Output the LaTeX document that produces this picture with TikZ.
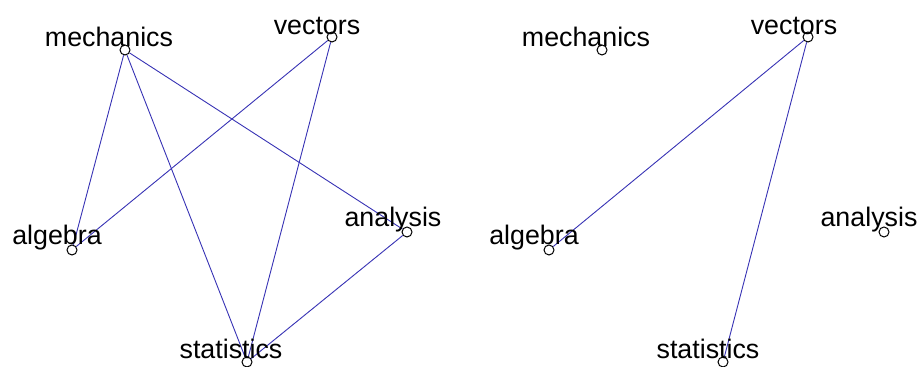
\documentclass[tikz,border=0pt]{standalone}
\usepackage{fontspec}
\setmainfont{Liberation Sans}
\usetikzlibrary{positioning}
\definecolor{edgeblue}{RGB}{55,50,180}

\begin{document}
\begin{tikzpicture}[
  x=0.5pt, y=-0.5pt,
  vx/.style={draw, circle, minimum size=5pt, inner sep=0pt, line width=0.5pt},
  lbl/.style={anchor=base, inner sep=0pt, font=\fontsize{13.4}{15}\selectfont},
  ed/.style={draw=edgeblue, line width=0.45pt}
]
  \useasboundingbox (0,0) rectangle (921,367);

  % left graph
  \node[vx] (mech1)  at (125,50)  {};
  \node[vx] (vect1)  at (332,37)  {};
  \node[vx] (alg1)   at (72,250)  {};
  \node[vx] (anal1)  at (407,232) {};
  \node[vx] (stat1)  at (247,362) {};

  \draw[ed] (mech1) -- (alg1);
  \draw[ed] (mech1) -- (stat1);
  \draw[ed] (mech1) -- (anal1);
  \draw[ed] (vect1) -- (alg1);
  \draw[ed] (vect1) -- (stat1);
  \draw[ed] (anal1) -- (stat1);

  \node[lbl] (tmech1) at (109,47)  {mechanics};
  \node[lbl] (tvect1) at (317,35)  {vectors};
  \node[lbl] (talg1)  at (57,245)  {algebra};
  \node[lbl] (tanal1) at (393,227) {analysis};
  \node[lbl] (tstat1) at (231,359) {statistics};

  % right graph
  \node[vx] (mech2)  at (602,50)  {};
  \node[vx] (vect2)  at (808,37)  {};
  \node[vx] (alg2)   at (549,250) {};
  \node[vx] (anal2)  at (884,232) {};
  \node[vx] (stat2)  at (723,362) {};

  \draw[ed] (vect2) -- (alg2);
  \draw[ed] (vect2) -- (stat2);

  \node[lbl] (tmech2) at (586,47)  {mechanics};
  \node[lbl] (tvect2) at (794,35)  {vectors};
  \node[lbl] (talg2)  at (534,245) {algebra};
  \node[lbl] (tanal2) at (869,227) {analysis};
  \node[lbl] (tstat2) at (708,359) {statistics};
\end{tikzpicture}
\end{document}
